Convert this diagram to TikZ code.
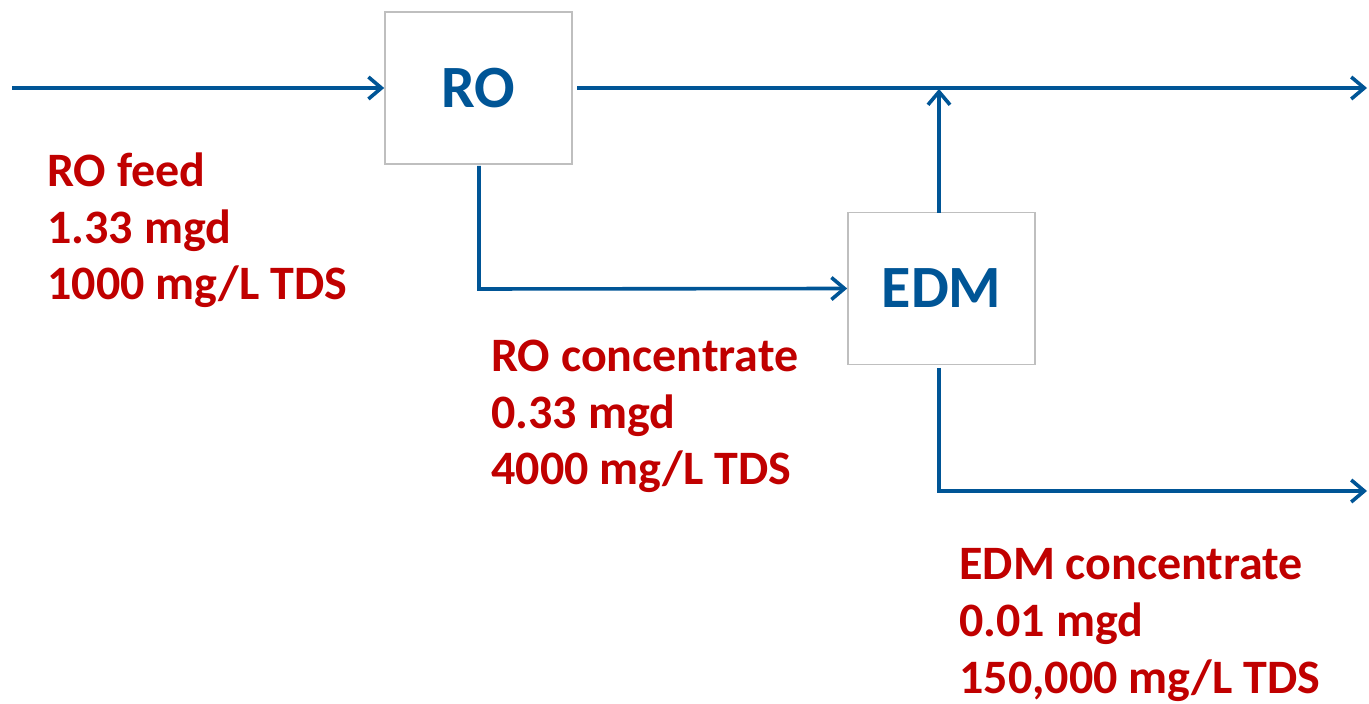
\documentclass[tikz,border=0pt]{standalone}
\usepackage{fontspec}
\setmainfont{Carlito}
\usetikzlibrary{arrows.meta}
\definecolor{flowblue}{RGB}{0,85,150}
\definecolor{labred}{RGB}{192,0,0}
\definecolor{boxgray}{RGB}{191,191,191}
\begin{document}
\begin{tikzpicture}[x=0.5pt,y=-0.5pt,
  unitbox/.style={draw=boxgray,line width=0.8pt,fill=white,minimum width=93.5pt,minimum height=76pt,inner sep=0pt,
    font=\fontsize{30}{36}\selectfont\bfseries,text=flowblue},
  flow/.style={draw=flowblue,line width=1.8pt,line join=miter,-{Straight Barb[length=6.5pt,width=11pt,line width=1.8pt]}},
  lab/.style={anchor=base west,align=left,inner sep=0pt,text=labred,
    font=\fontsize{24}{28.3}\selectfont\bfseries}]
\useasboundingbox (0,0) rectangle (1369,704);
\node[unitbox] (RO) at (478.5,88) {RO};
\node[unitbox] (EDM) at (941.5,288.5) {EDM};
\coordinate (feedin) at (12,88);
\coordinate (ROout) at (577,88);
\coordinate (prodout) at (1367,88);
\coordinate (ROdown) at (479,166);
\coordinate (ROcorner) at (479,289);
\coordinate (EDMup) at (939,213);
\coordinate (join) at (939,89);
\coordinate (EDMdown) at (939,368);
\coordinate (EDMcorner) at (939,491);
\coordinate (brineout) at (1367,491);
\draw[flow] (feedin) -- (RO.west);
\draw[flow] (ROout) -- (prodout);
\draw[flow] (EDMup) -- (join);
\draw[flow] (ROdown) -- (ROcorner) -- (EDM.west);
\draw[flow] (EDMdown) -- (EDMcorner) -- (brineout);
\node[lab] (feedlab) at (47,300) {RO feed\\1.33 mgd\\1000 mg/L TDS};
\node[lab] (rolab) at (491,485) {RO concentrate\\0.33 mgd\\4000 mg/L TDS};
\node[lab] (edmlab) at (959,693) {EDM concentrate\\0.01 mgd\\150,000 mg/L TDS};
\end{tikzpicture}
\end{document}
